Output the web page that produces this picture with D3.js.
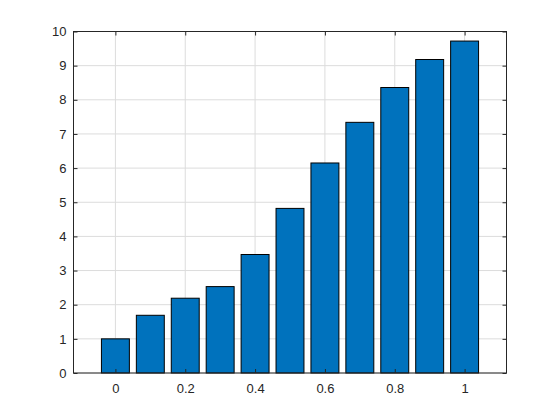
<!DOCTYPE html>
<html>
<head>
<meta charset="utf-8">
<script src="https://cdn.jsdelivr.net/npm/d3@7"></script>
<style>
  body { margin: 0; background: #fff; }
  text { font-family: "Liberation Sans", Arial, sans-serif; }
</style>
</head>
<body>
<div id="chart"></div>
<script>
// bar positions and heights
const xs = [0, 0.1, 0.2, 0.3, 0.4, 0.5, 0.6, 0.7, 0.8, 0.9, 1.0];
const heights = [1.0, 1.69, 2.19, 2.53, 3.47, 4.82, 6.15, 7.34, 8.36, 9.18, 9.72];
const xTicks = [0, 0.2, 0.4, 0.6, 0.8, 1];
const yTicks = [0, 1, 2, 3, 4, 5, 6, 7, 8, 9, 10];

const W = 560, H = 420;
const margin = {top: 31.5, right: 53.5, bottom: 47, left: 73.5};
const iw = W - margin.left - margin.right,
      ih = H - margin.top - margin.bottom;

const svg = d3.select("#chart").append("svg")
  .attr("width", W)
  .attr("height", H);

const g = svg.append("g")
  .attr("transform", `translate(${margin.left},${margin.top})`);

const x = d3.scaleLinear().domain([-0.12, 1.12]).range([0, iw]);
const y = d3.scaleLinear().domain([0, 10]).range([ih, 0]);
const barW = x(0.08) - x(0);

// Grid
g.append("g").selectAll("line")
  .data(xTicks)
  .enter().append("line")
  .attr("x1", d => x(d)).attr("x2", d => x(d))
  .attr("y1", 0).attr("y2", ih)
  .attr("stroke", "#dcdcdc").attr("stroke-width", 1);

g.append("g").selectAll("line")
  .data(yTicks)
  .enter().append("line")
  .attr("x1", 0).attr("x2", iw)
  .attr("y1", d => y(d)).attr("y2", d => y(d))
  .attr("stroke", "#dcdcdc").attr("stroke-width", 1);

// Bars
g.selectAll("rect.bar")
  .data(xs)
  .enter().append("rect")
  .attr("class", "bar")
  .attr("x", d => x(d) - barW / 2)
  .attr("y", (d, i) => y(heights[i]))
  .attr("width", barW)
  .attr("height", (d, i) => ih - y(heights[i]))
  .attr("fill", "#0072BD")
  .attr("stroke", "#000")
  .attr("stroke-width", 1);

// Axes (ticks inward, box around)
const axisColor = "#262626";
function styleAxis(sel) {
  sel.select(".domain").remove();
  sel.attr("font-size", null).attr("font-family", null);
  sel.selectAll("line").attr("stroke", axisColor);
  sel.selectAll("text").attr("fill", axisColor).style("font-size", "13px");
}

g.append("g")
  .attr("transform", `translate(0,${ih})`)
  .call(d3.axisBottom(x).tickValues(xTicks).tickSize(-4).tickPadding(11).tickFormat(d3.format("~g")))
  .call(styleAxis);

g.append("g")
  .call(d3.axisTop(x).tickValues(xTicks).tickSize(-4).tickFormat(""))
  .call(styleAxis);

g.append("g")
  .call(d3.axisLeft(y).tickValues(yTicks).tickSize(-4).tickPadding(7))
  .call(styleAxis);

g.append("g")
  .attr("transform", `translate(${iw},0)`)
  .call(d3.axisRight(y).tickValues(yTicks).tickSize(-4).tickFormat(""))
  .call(styleAxis);

g.append("rect")
  .attr("width", iw).attr("height", ih)
  .attr("fill", "none")
  .attr("stroke", axisColor)
  .attr("stroke-width", 1);
</script>
</body>
</html>
